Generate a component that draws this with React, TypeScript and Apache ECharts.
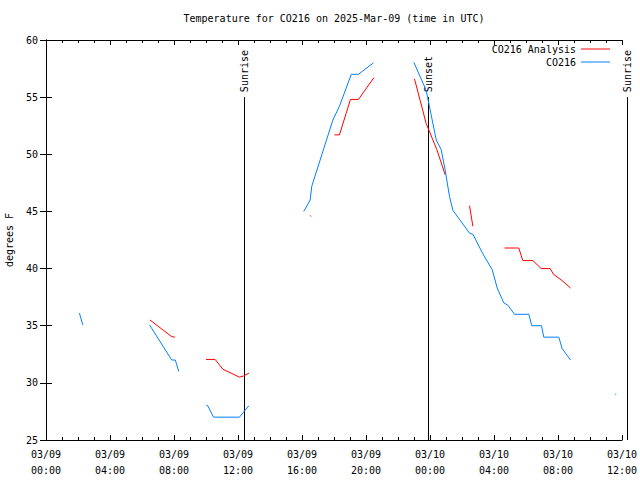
import React, { useEffect, useRef } from 'react';
import * as echarts from 'echarts';

// Hours since 2025-03-09 00:00 UTC; null separates data gaps
const analysisHours = [6.5, 7.86, 8.06, null, 10.0, 10.57, 11.05, 11.5, 12.09, 12.34, 12.68, null, 16.5, 16.56, null, 18.03, 18.34, 19.03, 19.53, 20.49, null, 23.03, 23.76, 24.43, 24.95, null, 26.47, 26.68, null, 28.66, 29.55, 29.8, 30.43, 30.95, 31.51, 31.72, 32.3, 32.78];
const analysisTemps = [35.5, 34.04, 34.0, null, 32.05, 32.05, 31.2, 30.9, 30.5, 30.6, 30.85, null, 44.65, 44.55, null, 51.7, 51.7, 54.8, 54.8, 56.7, null, 56.6, 52.7, 50.4, 48.2, null, 45.5, 43.7, null, 41.8, 41.8, 40.7, 40.7, 40.0, 40.0, 39.5, 38.9, 38.3];

const stationHours = [2.09, 2.3, null, 6.47, 7.86, 8.08, 8.3, null, 10.01, 10.11, 10.47, 12.09, 12.68, null, 16.11, 16.51, 16.61, 17.93, 18.34, 19.08, 19.53, 20.47, null, 22.99, 23.76, 24.39, 24.7, 24.95, 25.22, 25.43, 25.74, 26.47, 26.68, 27.3, 27.89, 28.2, 28.61, 28.86, 29.28, 30.18, 30.36, 30.97, 31.11, 32.05, 32.26, 32.78, null, 35.57, 35.63];
const stationTemps = [36.1, 35.07, null, 35.07, 32.0, 32.0, 31.0, null, 28, 28, 27, 27, 28, null, 45, 46, 47.2, 53, 54.2, 57, 57, 58, null, 58.05, 55.6, 51.25, 50.4, 48.6, 46.3, 45.1, 44.5, 43.1, 43.0, 41.3, 39.9, 38.3, 37.0, 36.8, 36.0, 36, 35, 35, 34, 34, 33, 32, null, 29.05, 28.95];

const eventHours = [12.36, 23.87, 36.32];
const eventLabels = ['Sunrise', 'Sunset', 'Sunrise'];
const eventTop = 55;

const xTickLabels = ['03/09\n00:00', '03/09\n04:00', '03/09\n08:00', '03/09\n12:00', '03/09\n16:00', '03/09\n20:00', '03/10\n00:00', '03/10\n04:00', '03/10\n08:00', '03/10\n12:00'];

const FONT = '"DejaVu Sans Mono", monospace';

function zip(h: (number | null)[], v: (number | null)[]) {
  return h.map((x, i) => (x === null || v[i] === null ? ['-', '-'] : [x, v[i]]));
}

export default function App() {
  const ref = useRef<HTMLDivElement>(null);
  useEffect(() => {
    if (!ref.current) return;
    const chart = echarts.init(ref.current, undefined, { renderer: 'svg' });
    const axisLine = { show: true, lineStyle: { color: '#000', width: 1 } };
    chart.setOption({
      animation: false,
      backgroundColor: '#fff',
      title: {
        text: 'Temperature for CO216 on 2025-Mar-09 (time in UTC)',
        left: 334,
        textAlign: 'center',
        top: 13,
        padding: 0,
        textStyle: { fontFamily: FONT, fontSize: 10, fontWeight: 'normal', color: '#000' },
      },
      legend: [
        {
          data: ['CO216 Analysis'],
          right: 30,
          top: 44,
          padding: 0,
          align: 'right',
          icon: 'rect',
          itemWidth: 29,
          itemHeight: 1,
          textStyle: { fontFamily: FONT, fontSize: 10, color: '#000' },
        },
        {
          data: ['CO216'],
          right: 30,
          top: 57,
          padding: 0,
          align: 'right',
          icon: 'rect',
          itemWidth: 29,
          itemHeight: 1,
          textStyle: { fontFamily: FONT, fontSize: 10, color: '#000' },
        },
      ],
      grid: { left: 46, right: 18, top: 40, bottom: 40, containLabel: false, outerBoundsMode: 'none' },
      xAxis: [
        {
          type: 'value',
          min: 0,
          max: 36,
          interval: 4,
          axisLine,
          axisTick: { show: true, inside: true, length: 5, lineStyle: { color: '#000' } },
          minorTick: { show: true, splitNumber: 4, length: 3, lineStyle: { color: '#000' } },
          splitLine: { show: false },
          axisLabel: {
            margin: 6,
            fontFamily: FONT,
            fontSize: 10,
            color: '#000',
            lineHeight: 16,
            formatter: (v: number) => xTickLabels[Math.round(v / 4)] ?? '',
          },
        },
        {
          type: 'value',
          position: 'top',
          min: 0,
          max: 36,
          interval: 4,
          axisLine,
          axisTick: { show: true, inside: true, length: 5, lineStyle: { color: '#000' } },
          minorTick: { show: true, splitNumber: 4, length: 3, lineStyle: { color: '#000' } },
          splitLine: { show: false },
          axisLabel: { show: false },
        },
      ],
      yAxis: [
        {
          type: 'value',
          min: 25,
          max: 60,
          interval: 5,
          name: 'degrees F',
          nameLocation: 'middle',
          nameGap: 32,
          nameTextStyle: { fontFamily: FONT, fontSize: 10, color: '#000' },
          axisLine,
          axisTick: { show: true, inside: true, length: 6, lineStyle: { color: '#000' } },
          splitLine: { show: false },
          axisLabel: { margin: 8, fontFamily: FONT, fontSize: 10, color: '#000' },
        },
        {
          type: 'value',
          position: 'right',
          min: 25,
          max: 60,
          interval: 5,
          axisLine,
          axisTick: { show: true, inside: true, length: 6, lineStyle: { color: '#000' } },
          splitLine: { show: false },
          axisLabel: { show: false },
        },
      ],
      series: [
        {
          type: 'custom',
          clip: false,
          silent: true,
          xAxisIndex: 0,
          yAxisIndex: 0,
          data: eventHours.map((h) => [h, eventTop]),
          encode: { x: 0, y: 1 },
          renderItem: (params: any, api: any) => {
            const t = api.value(0);
            const top = api.coord([t, eventTop]);
            const bottom = api.coord([t, 25]);
            const x = Math.round(top[0]) + 0.5;
            return {
              type: 'group',
              children: [
                {
                  type: 'line',
                  shape: { x1: x, y1: top[1], x2: x, y2: bottom[1] },
                  style: { stroke: '#000', lineWidth: 1 },
                },
                {
                  type: 'text',
                  x: x,
                  y: top[1] - 5,
                  rotation: Math.PI / 2,
                  style: {
                    text: eventLabels[params.dataIndex],
                    font: '10px ' + FONT,
                    fill: '#000',
                    align: 'left',
                    verticalAlign: 'middle',
                  },
                },
              ],
            };
          },
        },
        {
          name: 'CO216 Analysis',
          type: 'line',
          data: zip(analysisHours, analysisTemps),
          symbol: 'none',
          connectNulls: false,
          color: '#ff0000',
          lineStyle: { width: 1, color: '#ff0000' },
        },
        {
          name: 'CO216',
          type: 'line',
          data: zip(stationHours, stationTemps),
          symbol: 'none',
          connectNulls: false,
          color: '#0080ff',
          lineStyle: { width: 1, color: '#0080ff' },
        },
      ],
    });
    return () => chart.dispose();
  }, []);
  return (
    <div
      ref={ref}
      style={{ position: 'fixed', left: 0, top: 0, width: 640, height: 480, background: '#fff' }}
    />
  );
}
